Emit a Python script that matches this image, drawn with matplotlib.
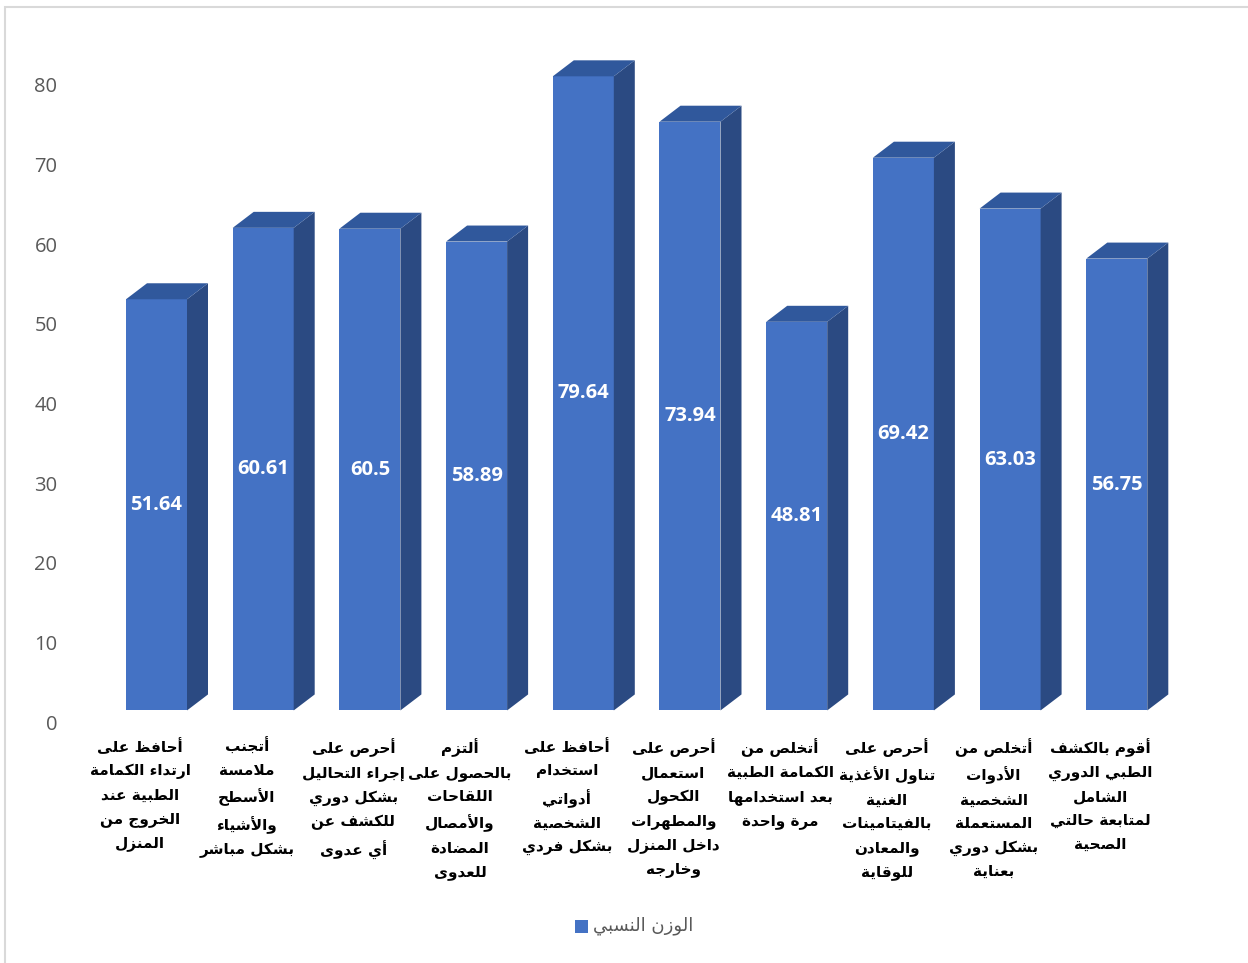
import matplotlib
matplotlib.use("Agg")
import matplotlib.pyplot as plt
from matplotlib.patches import Polygon, Rectangle

# --- data ---
categories = [
    "أحافظ على\nارتداء الكمامة\nالطبية عند\nالخروج من\nالمنزل",
    "أتجنب\nملامسة\nالأسطح\nوالأشياء\nبشكل مباشر",
    "أحرص على\nإجراء التحاليل\nبشكل دوري\nللكشف عن\nأي عدوى",
    "ألتزم\nبالحصول على\nاللقاحات\nوالأمصال\nالمضادة\nللعدوى",
    "أحافظ على\nاستخدام\nأدواتي\nالشخصية\nبشكل فردي",
    "أحرص على\nاستعمال\nالكحول\nوالمطهرات\nداخل المنزل\nوخارجه",
    "أتخلص من\nالكمامة الطبية\nبعد استخدامها\nمرة واحدة",
    "أحرص على\nتناول الأغذية\nالغنية\nبالفيتامينات\nوالمعادن\nللوقاية",
    "أتخلص من\nالأدوات\nالشخصية\nالمستعملة\nبشكل دوري\nبعناية",
    "أقوم بالكشف\nالطبي الدوري\nالشامل\nلمتابعة حالتي\nالصحية",
]
values = [51.64, 60.61, 60.5, 58.89, 79.64, 73.94, 48.81, 69.42, 63.03, 56.75]
series_name = "الوزن النسبي"
yticks = [0, 10, 20, 30, 40, 50, 60, 70, 80]

# --- minimal Arabic shaping (matplotlib has no bidi / shaping) ---
_right = {'\u0622': 0xFE81, '\u0623': 0xFE83, '\u0624': 0xFE85, '\u0625': 0xFE87,
          '\u0627': 0xFE8D, '\u0629': 0xFE93, '\u062F': 0xFEA9, '\u0630': 0xFEAB,
          '\u0631': 0xFEAD, '\u0632': 0xFEAF, '\u0648': 0xFEED, '\u0649': 0xFEEF}
_dual = {'\u0626': 0xFE89, '\u0628': 0xFE8F, '\u062A': 0xFE95, '\u062B': 0xFE99,
         '\u062C': 0xFE9D, '\u062D': 0xFEA1, '\u062E': 0xFEA5, '\u0633': 0xFEB1,
         '\u0634': 0xFEB5, '\u0635': 0xFEB9, '\u0636': 0xFEBD, '\u0637': 0xFEC1,
         '\u0638': 0xFEC5, '\u0639': 0xFEC9, '\u063A': 0xFECD, '\u0641': 0xFED1,
         '\u0642': 0xFED5, '\u0643': 0xFED9, '\u0644': 0xFEDD, '\u0645': 0xFEE1,
         '\u0646': 0xFEE5, '\u0647': 0xFEE9, '\u064A': 0xFEF1}
_lamalef = {'\u0622': 0xFEF5, '\u0623': 0xFEF7, '\u0625': 0xFEF9, '\u0627': 0xFEFB}


def shape_line(s):
    chars = []
    i = 0
    while i < len(s):
        if s[i] == '\u0644' and i + 1 < len(s) and s[i + 1] in _lamalef:
            chars.append(('LA', s[i + 1]))
            i += 2
        else:
            chars.append(s[i])
            i += 1

    def joins_next(c):
        return isinstance(c, str) and c in _dual

    def joins_prev(c):
        return isinstance(c, tuple) or c in _dual or c in _right

    out = []
    n = len(chars)
    for k, c in enumerate(chars):
        p = k > 0 and joins_next(chars[k - 1]) and joins_prev(c)
        nx = k < n - 1 and joins_next(c) and joins_prev(chars[k + 1])
        if isinstance(c, tuple):
            out.append(chr(_lamalef[c[1]] + (1 if p else 0)))
        elif c in _dual:
            off = 3 if (p and nx) else 2 if nx else 1 if p else 0
            out.append(chr(_dual[c] + off))
        elif c in _right:
            out.append(chr(_right[c] + (1 if p else 0)))
        elif c == '\u0621':
            out.append('\uFE80')
        else:
            out.append(c)
    return "".join(reversed(out))


def ar(text):
    return "\n".join(shape_line(line) for line in text.split("\n"))


W, H = 1248, 963
fig = plt.figure(figsize=(W / 100, H / 100), dpi=100)

# chart border (light gray)
fig.patches.append(Rectangle((5 / W, -0.1), 1.2, 1.1 - 7 / H, transform=fig.transFigure,
                             fill=False, edgecolor="#D9D9D9", linewidth=1.5))

# plot area: x category centres at 140 + 106.7*i px, y 0..80 -> 722..85 px
x0 = 140 - 106.7 / 2
ax = fig.add_axes([x0 / W, (H - 722) / H, 106.7 * 10 / W, (722 - 85) / H])
ax.set_xlim(-0.5, 9.5)
ax.set_ylim(0, 80)
for sp in ax.spines.values():
    sp.set_visible(False)

px_x = 1 / 106.7            # data units per pixel (x)
px_y = 80 / (722 - 85)      # data units per pixel (y)
front_c = "#4472C4"
side_c = "#2B4A82"
top_c = "#30589C"
dx, dy = 21 * px_x, 16 * px_y
base = 1.45
left_off, bw = -14 * px_x, 61 * px_x

for i, v in enumerate(values):
    l = i + left_off
    r = l + bw
    b, t = base, base + v
    ax.add_patch(Rectangle((l, b), bw, v, facecolor=front_c, edgecolor="none", clip_on=False, zorder=3))
    ax.add_patch(Polygon([(r, b), (r + dx, b + dy), (r + dx, t + dy), (r, t)],
                         closed=True, facecolor=side_c, edgecolor="none", clip_on=False, zorder=3))
    ax.add_patch(Polygon([(l, t), (r, t), (r + dx, t + dy), (l + dx, t + dy)],
                         closed=True, facecolor=top_c, edgecolor="none", clip_on=False, zorder=3))
    ax.text((l + r) / 2, (b + t) / 2, f"{v:g}", ha="center", va="center", color="white",
            fontsize=14.5, fontweight="bold", family="Open Sans", zorder=4)

ax.set_xticks([])
ax.set_yticks(yticks)
ax.set_yticklabels([str(t) for t in yticks], family="Open Sans", fontsize=14.5, color="#595959")
ax.tick_params(axis="y", length=0, pad=21)

# category labels (RTL, bold black)
for i, c in enumerate(categories):
    ax.text(i, -16 * px_y, ar(c), transform=ax.transData, ha="center", va="top",
            multialignment="center", fontsize=11, fontweight="bold", color="black",
            family="DejaVu Sans", linespacing=1.7, clip_on=False)

# legend
fig.patches.append(Rectangle((575 / W, 1 - 933 / H), 13 / W, 13 / H, transform=fig.transFigure,
                             facecolor=front_c, edgecolor="none"))
fig.text(593 / W, 1 - 926 / H, ar(series_name), ha="left", va="center", fontsize=13,
         color="#595959", family="DejaVu Sans")

fig.savefig("out.png", dpi=100)
